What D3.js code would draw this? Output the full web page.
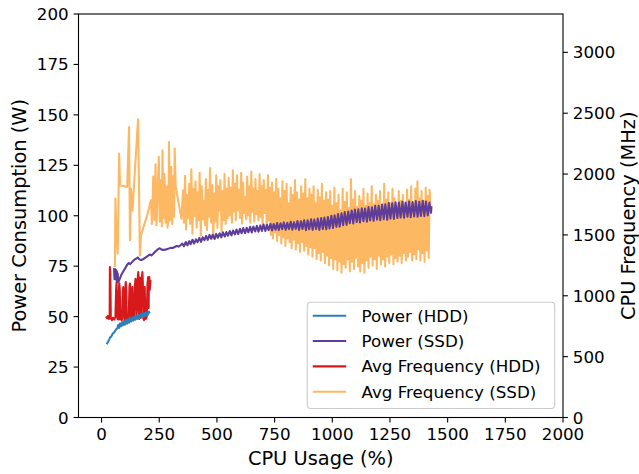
<!DOCTYPE html>
<html><head><meta charset="utf-8">
<script src="https://cdn.jsdelivr.net/npm/d3@7"></script>
<style>body{margin:0;background:#fff}svg{display:block}text{font-family:"DejaVu Sans",sans-serif;fill:#000}</style>
</head><body><svg id="c" width="639" height="474"></svg>
<script>
// ---- data (CPU usage %, value) ----
const hddPower = [[22,36.3],[28,37.5],[33,38.6],[36,39.5],[42,40.2],[48,41.5],[55,42.3],[62,43.5],[68,44.2],[72,45.8],[76,44.4],[79,46.6],[84,45.2],[88,47.3],[92,45.6],[97,47.8],[101,46.0],[106,48.4],[110,46.5],[115,48.8],[119,47.0],[124,49.2],[128,47.6],[133,49.6],[137,48.0],[142,50.0],[146,48.5],[151,50.4],[155,48.9],[160,50.8],[164,49.3],[169,51.1],[173,49.7],[178,51.5],[182,50.0],[187,51.8],[191,50.4],[196,52.1],[200,50.8],[205,52.5],[209,51.6]];

const hddFreq = [[19,830],[24,815],[28,835],[32,810],[35,820],[36,1236],[38,1180],[40,815],[45,800],[50,820],[55,805],[60,825],[63,1050],[65,1113],[67,1000],[69,810],[73,805],[76,1080],[77,1100],[79,1050],[81,805],[85,820],[88,800],[92,1030],[94,1072],[96,1000],[98,810],[102,800],[104,1100],[105,1113],[107,1040],[109,805],[113,820],[117,800],[121,1080],[123,1100],[125,1050],[127,810],[131,1000],[134,1072],[136,820],[140,805],[145,1100],[147,1140],[149,1120],[151,815],[154,900],[157,1150],[159,1195],[161,1100],[163,810],[165,1120],[166,1150],[168,1000],[170,820],[174,1130],[177,1195],[179,1100],[181,815],[184,800],[186,1000],[187,1072],[189,900],[192,810],[196,830],[199,1100],[202,1154],[204,900],[205,1120],[207,1154],[209,1050],[212,1130]];

const ssdPower = [[54,74.0],[56,68.5],[58,73.6],[60,68.8],[62,73.2],[64,68.2],[66,72.6],[68,67.6],[70,71.5],[72,66.9],[78,68.5],[86,70.8],[95,72.6],[104,74.3],[112,75.9],[118,76.6],[124,76.0],[132,77.0],[142,78.2],[152,78.9],[158,79.3],[164,78.3],[172,78.1],[182,78.6],[192,79.4],[202,80.2],[210,80.8],[216,80.3],[224,81.2],[234,82.4],[244,83.3],[252,83.9],[258,83.4],[266,83.0],[276,83.2],[288,83.6],[298,84.1],[308,84.0],[318,84.6],[326,85.0],[334,84.7],[342,85.4],
[350,86.2],[357,84.9],[365,87.0],[372,85.3],[380,87.4],[386,85.9],[394,88.1],[401,86.2],[409,88.3],[416,86.9],
[424,89.0],[431,87.0],[438,89.3],[446,87.9],[453,90.0],[460,88.0],[468,90.5],[475,88.6],[482,90.6],[490,88.5],
[497,91.0],[504,89.1],[512,91.3],[519,89.3],[526,91.8],[534,89.7],[541,91.9],[548,90.1],[556,92.4],[563,90.3],
[570,92.7],[578,90.8],[585,93.2],[592,90.9],[600,93.5],[607,91.3],[614,93.9],[622,91.4],[629,94.0],[636,91.8],
[644,94.5],[651,91.7],[658,94.6],[666,92.2],[673,95.0],[680,92.1],[688,95.2],[695,92.5],[702,95.6],[710,92.4],
[717,95.5],[724,92.8],[732,96.0],[739,92.7],[746,95.9],[754,93.1],[761,96.4],[768,92.9],[776,96.3],[783,93.3],
[790,96.7],[798,93.0],[805,96.5],[812,93.4],[820,97.0],[827,93.1],[834,96.8],[842,93.5],[849,97.4],[856,93.0],
[864,97.3],[871,93.4],[878,97.8],[886,92.9],[893,97.7],[900,93.3],[908,98.2],[915,93.0],[922,98.1],[930,93.4],
[937,98.6],[944,93.0],[952,98.9],[959,93.4],[966,99.1],[974,93.3],[981,99.4],[988,93.7],[996,100.0],[1003,93.9],
[1010,100.2],[1018,94.5],[1025,100.9],[1032,94.6],[1040,101.2],[1047,95.3],[1054,101.8],[1062,95.5],[1069,102.1],[1076,96.3],
[1084,102.6],[1091,96.2],[1098,103.1],[1106,96.9],[1113,103.2],[1120,96.7],[1128,103.7],[1135,97.3],[1142,103.6],[1150,97.1],
[1157,104.3],[1164,97.7],[1172,104.2],[1179,97.5],[1186,104.9],[1194,98.1],[1201,105.0],[1208,97.8],[1216,105.6],[1223,98.3],
[1230,105.7],[1238,98.0],[1245,106.3],[1252,98.6],[1260,106.2],[1267,98.4],[1274,106.7],[1282,98.9],[1289,106.5],[1296,99.1],
[1304,106.9],[1311,99.0],[1318,106.6],[1326,99.5],[1333,107.1],[1340,99.3],[1348,106.8],[1355,99.7],[1362,107.3],[1370,99.5],
[1377,106.9],[1384,99.9],[1392,107.4],[1399,99.8],[1406,107.0],[1414,100.2],[1421,106.5],[1428,101.5],[1430,104.8]];

const ssdFreq = [[58,1236],[60,1798],[64,1520],[70,1346],[76,2168],[80,1908],[111,1894],[119,2387],[123,1456],[127,1880],[134,1700],[158,2450],[163,1800],[166,1332],[171,1500],[196,1650],[214,1785],[218,1590],[224,1980],[229,1620],[234,2080],[238,1580],[244,1900],[248,2141],[252,1610],[257,1950],[261,1570],[264,2196],[268,1640],[273,2000],[277,1600],[282,1900],[286,1560],[290,1640],[292,2264],[297,1620],[302,2060],[306,1590],[310,1980],[314,1650],[317,2210],[321,1900],[346,1634],
[353,1867],[357,1600],[362,1985],[366,1545],[371,1830],[376,1640],[380,1920],[384,1590],[389,2040],[394,1510],
[398,1880],[403,1655],[407,1940],[412,1560],[417,1850],[421,1620],[425,2010],[430,1495],[434,1900],[439,1630],
[444,1780],[448,1580],[452,1960],[457,1540],[462,1870],[466,1650],[470,2050],[475,1600],[480,1910],[484,1470],
[489,1840],[493,1610],[497,1990],[502,1560],[507,1900],[511,1700],[515,1950],[520,1530],[524,1860],[529,1620],
[533,2000],[538,1590],[542,1880],[547,1640],
[551,1970],[555,1660],[560,1890],[565,1600],[569,2030],[573,1690],[578,1920],[582,1620],[587,1990],[591,1700],
[596,1870],[600,1640],[605,2010],[609,1595],[613,1930],[618,1680],[622,1810],[627,1630],[631,1980],[636,1660],
[640,1900],[645,1600],[649,2020],[653,1690],[658,1880],[662,1610],[667,1960],[671,1670],[676,1860],[680,1620],
[685,2000],[689,1650],[694,1900],[698,1580],[703,1950],[707,1680],[712,1870],[716,1560],[721,1990],[725,1620],
[730,1890],
[734,1500],[739,1930],[743,1470],[748,1850],[752,1520],[757,1960],[761,1450],[766,1880],[770,1500],[775,1800],
[779,1430],[784,1940],[788,1480],[793,1860],[797,1410],[802,1920],[806,1470],[811,1760],[815,1440],[820,1890],
[824,1390],[829,1830],[833,1460],[838,1950],[842,1380],[847,1850],[851,1430],[856,1790],[860,1360],[865,1900],
[869,1440],[874,1840],[878,1370],[883,1960],[887,1410],[892,1800],[896,1340],[901,1880],[905,1400],[910,1830],
[914,1320],[919,1900],[923,1390],[928,1760],[932,1300],[937,1870],[941,1350],[946,1810],[950,1290],[955,1920],
[959,1360],[964,1780],[968,1270],[973,1850],[977,1330],[982,1790],[986,1250],
[991,1860],[995,1310],[1000,1740],[1004,1220],[1009,1890],[1013,1300],[1018,1760],[1022,1210],[1027,1830],[1031,1280],
[1036,1700],[1040,1190],[1045,1880],[1049,1260],[1054,1770],[1058,1230],[1063,1850],[1067,1300],[1072,1720],[1076,1200],
[1081,1960],[1085,1280],[1090,1790],[1094,1220],[1099,1860],[1103,1310],[1108,1730],[1112,1240],[1117,1820],[1121,1200],
[1126,1780],[1130,1270],[1135,1880],[1139,1190],[1144,1740],[1148,1290],[1153,1840],[1157,1230],[1162,1760],[1166,1320],
[1171,1900],[1175,1250],[1180,1750],[1184,1300],[1189,1830],[1193,1220],[1198,1780],[1202,1330],[1207,1860],[1211,1260],
[1216,1740],[1220,1300],[1225,1920],[1229,1240],[1234,1790],[1238,1320],[1243,1850],[1247,1270],[1252,1760],[1256,1340],
[1261,1880],[1265,1260],[1270,1800],[1274,1310],[1279,1740],[1283,1280],[1288,1860],[1292,1330],[1297,1780],[1301,1270],
[1306,1830],[1310,1350],[1315,1750],[1319,1290],[1324,1870],[1328,1320],
[1333,1790],[1337,1360],[1342,1900],[1346,1290],[1351,1760],[1355,1340],[1360,1880],[1364,1300],[1369,1940],[1373,1380],
[1378,1800],[1382,1290],[1387,1860],[1391,1350],[1396,1780],[1400,1280],[1405,1890],[1409,1370],[1414,1820],[1418,1310],
[1422,1870],[1427,1680]];

const xTicks = [0,250,500,750,1000,1250,1500,1750,2000];
const yTicksLeft = [0,25,50,75,100,125,150,175,200];
const yTicksRight = [0,500,1000,1500,2000,2500,3000];
const seriesNames = ["Power (HDD)","Power (SSD)","Avg Frequency (HDD)","Avg Frequency (SSD)"];
const seriesColors = ["#2c7fb8","#5e3c99","#d7191c","#fdb863"];

// ---- layout ----
const svg = d3.select("#c");
const L = 78.5, R = 563, T = 14, B = 417.5;
const x = d3.scaleLinear().domain([-100, 2000]).range([L, R]);
const yL = d3.scaleLinear().domain([0, 200]).range([B, T]);
const yR = d3.scaleLinear().domain([0, 3315]).range([B, T]);

svg.append("clipPath").attr("id","pc").append("rect")
  .attr("x",L).attr("y",T).attr("width",R-L).attr("height",B-T);
const g = svg.append("g").attr("clip-path","url(#pc)");

const lineL = d3.line().x(d=>x(d[0])).y(d=>yL(d[1]));
const lineR = d3.line().x(d=>x(d[0])).y(d=>yR(d[1]));

function draw(data, ln, color){
  g.append("path").datum(data).attr("d", ln).attr("fill","none")
   .attr("stroke", color).attr("stroke-width", 2.08).attr("stroke-linejoin","round").attr("stroke-linecap","butt");
}
draw(hddFreq, lineR, seriesColors[2]);
draw(ssdFreq, lineR, seriesColors[3]);
draw(hddPower, lineL, seriesColors[0]);
draw(ssdPower, lineL, seriesColors[1]);

// ---- axes ----
const fs = 16.7;
const axG = svg.append("g");
const tickLen = 4.9, pad = 4.9;
xTicks.forEach(t=>{
  const px = x(t);
  axG.append("line").attr("x1",px).attr("x2",px).attr("y1",B).attr("y2",B+tickLen).attr("stroke","#000").attr("stroke-width",1.1);
  axG.append("text").attr("x",px).attr("y",B+tickLen+pad).attr("dy","0.76em").attr("text-anchor","middle").attr("font-size",fs).text(t);
});
yTicksLeft.forEach(t=>{
  const py = yL(t);
  axG.append("line").attr("x1",L-tickLen).attr("x2",L).attr("y1",py).attr("y2",py).attr("stroke","#000").attr("stroke-width",1.1);
  axG.append("text").attr("x",L-tickLen-pad).attr("y",py).attr("dy","0.36em").attr("text-anchor","end").attr("font-size",fs).text(t);
});
yTicksRight.forEach(t=>{
  const py = yR(t);
  axG.append("line").attr("x1",R).attr("x2",R+tickLen).attr("y1",py).attr("y2",py).attr("stroke","#000").attr("stroke-width",1.1);
  axG.append("text").attr("x",R+tickLen+pad).attr("y",py).attr("dy","0.36em").attr("text-anchor","start").attr("font-size",fs).text(t);
});
axG.append("rect").attr("x",L).attr("y",T).attr("width",R-L).attr("height",B-T)
  .attr("fill","none").attr("stroke","#000").attr("stroke-width",1.1);

const lfs = 19.4;
axG.append("text").attr("x",(L+R)/2).attr("y",465).attr("text-anchor","middle").attr("font-size",lfs).text("CPU Usage (%)");
axG.append("text").attr("transform",`translate(26,${(T+B)/2}) rotate(-90)`).attr("text-anchor","middle").attr("font-size",lfs).text("Power Consumption (W)");
axG.append("text").attr("transform",`translate(635,${(T+B)/2}) rotate(-90)`).attr("text-anchor","middle").attr("font-size",lfs).text("CPU Frequency (MHz)");

// ---- legend ----
const lg = svg.append("g");
const lx = 307.3, ly = 302.3, lw = 247.4, lh = 106.2;
lg.append("rect").attr("x",lx).attr("y",ly).attr("width",lw).attr("height",lh).attr("rx",3.5)
  .attr("fill","#fff").attr("fill-opacity",0.8).attr("stroke","#cccccc").attr("stroke-width",1.1);
seriesNames.forEach((name,i)=>{
  const cy = 315.7 + i*25.35;
  lg.append("line").attr("x1",312.8).attr("x2",346.2).attr("y1",cy).attr("y2",cy).attr("stroke",seriesColors[i]).attr("stroke-width",2.08);
  lg.append("text").attr("x",361.5).attr("y",cy).attr("dy","0.36em").attr("font-size",fs).text(name);
});
</script></body></html>
